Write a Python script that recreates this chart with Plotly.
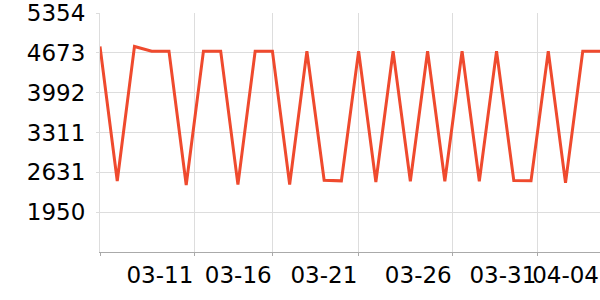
import plotly.graph_objects as go

dates = ["2024-03-06", "2024-03-07", "2024-03-08", "2024-03-09", "2024-03-10",
         "2024-03-11", "2024-03-12", "2024-03-13", "2024-03-14", "2024-03-15",
         "2024-03-16", "2024-03-17", "2024-03-18", "2024-03-19", "2024-03-20",
         "2024-03-21", "2024-03-22", "2024-03-23", "2024-03-24", "2024-03-25",
         "2024-03-26", "2024-03-27", "2024-03-28", "2024-03-29", "2024-03-30",
         "2024-03-31", "2024-04-01", "2024-04-02", "2024-04-03", "2024-04-04"]
values = [4783, 2483, 4783, 4702, 4702, 2415, 4702, 4702, 2420, 4702,
          4702, 2422, 4702, 2495, 2485, 4702, 2465, 4702, 2478, 4702,
          2478, 4702, 2478, 4702, 2492, 2487, 4702, 2450, 4702, 4702]

x_tick_labels = ["", "03-11", "03-16", "03-21", "03-26", "03-31", "04-04"]
x_tick_vals = ["2024-03-06 00:00", "2024-03-11 11:15", "2024-03-16 00:22",
               "2024-03-20 23:33", "2024-03-26 10:58", "2024-03-31 08:44",
               "2024-04-04 00:00"]
y_tick_vals = [1950, 2631, 3311, 3992, 4673, 5354]
y_tick_labels = ["1950", "2631", "3311", "3992", "4673", "5354"]

fig = go.Figure(go.Scatter(
    x=dates, y=values, mode="lines",
    line=dict(color="#ef4a2e", width=3),
    hoverinfo="skip",
))

font = dict(family="DejaVu Sans", size=23, color="#000000")

fig.update_layout(
    width=600, height=300,
    margin=dict(l=100, r=0, t=10, b=48),
    paper_bgcolor="white", plot_bgcolor="white",
    showlegend=False,
    font=font,
)
fig.update_xaxes(
    type="date",
    range=["2024-03-06", "2024-04-04"],
    tickmode="array", tickvals=x_tick_vals, ticktext=x_tick_labels,
    ticklabelposition="outside left", ticklabeloverflow="allow",
    tickangle=0, ticklabelstandoff=2,
    showgrid=True, gridcolor="#dddddd", gridwidth=1,
    showline=True, linecolor="#aaaaaa", linewidth=1,
    ticks="outside", ticklen=3, tickcolor="#aaaaaa",
    tickfont=font,
    zeroline=False,
)
fig.update_yaxes(
    range=[1269.2, 5354.5],
    tickmode="array", tickvals=y_tick_vals, ticktext=y_tick_labels,
    ticklabeloverflow="allow", ticklabelstandoff=6,
    showgrid=True, gridcolor="#dddddd", gridwidth=1,
    showline=True, linecolor="#dddddd", linewidth=1,
    ticks="outside", ticklen=3, tickcolor="#dddddd",
    tickfont=font,
    zeroline=False,
)

fig.write_html("out.html")
